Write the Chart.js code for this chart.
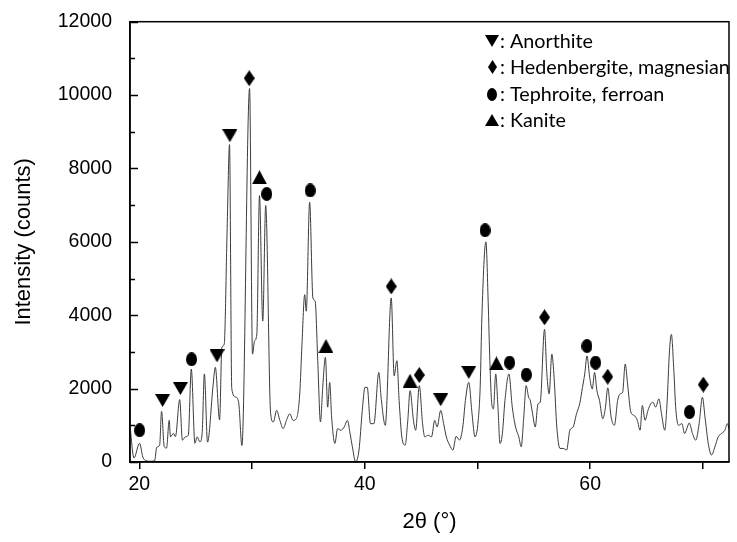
<!DOCTYPE html>
<html>
<head>
<meta charset="utf-8">
<script src="https://cdn.jsdelivr.net/npm/chart.js@4.4.0/dist/chart.umd.min.js"></script>
<style>
  html, body { margin: 0; padding: 0; background: #fff; }
  #wrap { position: relative; width: 737px; height: 542px; }
</style>
</head>
<body>
<div id="wrap"><canvas id="xrd" width="737" height="542"></canvas></div>
<script>

// XRD trace, 2theta (deg) and intensity (counts)
let theta = [
   19.18, 19.52, 20.02, 20.31, 20.66, 21.00, 21.36, 21.54, 21.80, 21.97,
   22.21, 22.41, 22.65, 22.76, 23.03, 23.20, 23.58, 23.82, 24.08, 24.34,
   24.61, 24.93, 25.13, 25.37, 25.57, 25.77, 26.05, 26.54, 26.74, 27.12,
   27.32, 27.53, 27.79, 28.00, 28.20, 28.55, 28.82, 29.10, 29.78, 30.04,
   30.22, 30.42, 30.66, 30.95, 31.21, 31.65, 31.89, 32.18, 32.47, 32.76,
   33.05, 33.35, 33.64, 33.93, 34.23, 34.43, 34.67, 34.81, 35.11, 35.40,
   35.60, 35.83, 36.07, 36.27, 36.51, 36.71, 36.89, 37.06, 37.35, 37.59,
   37.88, 38.18, 38.46, 38.70, 38.90, 39.19, 39.49, 39.78, 40.02, 40.22,
   40.51, 40.81, 41.25, 41.45, 41.82, 42.35, 42.61, 42.85, 43.05, 43.29,
   43.58, 43.82, 44.02, 44.32, 44.52, 44.84, 45.13, 45.33, 45.63, 45.92,
   46.21, 46.42, 46.74, 47.00, 47.24, 47.53, 47.82, 48.11, 48.40, 48.70,
   48.93, 49.23, 49.52, 49.78, 50.07, 50.25, 50.39, 50.75, 50.95, 51.10,
   51.27, 51.42, 51.62, 51.82, 52.00, 52.21, 52.44, 52.79, 53.09, 53.38,
   53.67, 53.88, 54.11, 54.32, 54.54, 54.69, 54.89, 55.13, 55.37, 55.57,
   55.95, 56.16, 56.36, 56.60, 56.80, 57.04, 57.32, 57.61, 57.91, 58.20,
   58.49, 58.79, 59.08, 59.32, 59.52, 59.72, 59.96, 60.19, 60.39, 60.60,
   60.83, 61.12, 61.36, 61.56, 61.86, 62.15, 62.44, 62.65, 62.88, 63.11,
   63.32, 63.61, 63.90, 64.19, 64.43, 64.63, 64.87, 65.13, 65.37, 65.57,
   65.81, 66.10, 66.33, 66.62, 66.82, 67.04, 67.21, 67.41, 67.61, 67.85,
   68.14, 68.38, 68.58, 68.79, 69.08, 69.37, 69.67, 69.96, 70.19, 70.48,
   70.77, 71.07, 71.36, 71.65, 71.95, 72.17, 72.32
];

let counts = [
   950, 110, 510, 135, 30, 20, 40, 400, 460, 1380,
   415, 380, 1135, 685, 780, 690, 1700, 595, 685, 730,
   2530, 510, 685, 550, 780, 2400, 540, 2080, 2580, 1150,
   3120, 3210, 6360, 8650, 2000, 1770, 1600, 450, 10180, 2940,
   3300, 3480, 7260, 3840, 6990, 1315, 1090, 1405, 1135, 910,
   1135, 1315, 1135, 1180, 1855, 3210, 4560, 4110, 7080, 4470,
   4380, 2760, 1090, 2035, 2850, 1495, 2170, 1225, 505, 910,
   865, 955, 1135, 775, 415, 10, 325, 1405, 2035, 2035,
   1045, 1045, 2440, 1765, 1000, 4470, 2350, 2760, 1675, 685,
   460, 1135, 1945, 1135, 865, 2080, 1045, 685, 730, 685,
   1135, 955, 1405, 1045, 685, 460, 325, 700, 600, 955,
   1675, 2170, 1315, 685, 1135, 2125, 3930, 6000, 4380, 2760,
   1585, 1450, 2400, 1495, 505, 775, 1675, 2400, 1495, 955,
   685, 415, 1225, 2080, 1765, 1675, 1315, 955, 1585, 1630,
   3615, 2400, 1855, 2940, 2305, 955, 370, 370, 325, 865,
   955, 1315, 1600, 2035, 2400, 2890, 2305, 1990, 2440, 1945,
   1675, 1180, 1495, 2020, 1225, 1000, 1675, 1855, 1900, 2670,
   2125, 1360, 1270, 1135, 865, 1540, 1135, 1405, 1585, 1630,
   1495, 1720, 1315, 865, 1585, 3030, 3480, 2580, 1405, 1000,
   1045, 775, 910, 1065, 775, 595, 1045, 1765, 1225, 505,
   190, 415, 685, 775, 865, 1045, 910
];

// phase markers (position of the symbol)
let anorthiteX = [22.06, 23.64, 26.89, 28.03, 46.74, 49.23];
let anorthiteY = [1675, 2000, 2890, 8890, 1695, 2440];

let hedenbergiteX = [29.75, 42.35, 44.84, 55.95, 61.56, 70.04];
let hedenbergiteY = [10460, 4785, 2370, 3945, 2325, 2110];

let tephroiteX = [20.02, 24.63, 31.30, 35.16, 50.68, 52.85, 54.34, 59.72, 60.48, 68.82];
let tephroiteY = [865, 2800, 7305, 7400, 6315, 2710, 2380, 3160, 2710, 1360];

let kaniteX = [30.66, 36.56, 44.02, 51.68];
let kaniteY = [7760, 3160, 2215, 2685];

let legendNames = ["Anorthite", "Hedenbergite, magnesian", "Tephroite, ferroan", "Kanite"];


function makeMarker(shape, w, h){

   let c = document.createElement("canvas");
   c.width = w;
   c.height = h;

   let g = c.getContext("2d");
   g.fillStyle = "#000";
   g.beginPath();

   if(shape === "down"){
      g.moveTo(0,0); g.lineTo(w,0); g.lineTo(w/2,h);
   }else if(shape === "up"){
      g.moveTo(w/2,0); g.lineTo(w,h); g.lineTo(0,h);
   }else if(shape === "diamond"){
      g.moveTo(w/2,0); g.lineTo(w,h/2); g.lineTo(w/2,h); g.lineTo(0,h/2);
   }else{
      g.ellipse(w/2,h/2,w/2,h/2,0,0,Math.PI*2);
   }

   g.closePath();
   g.fill();

   return c;

}

let markDown = makeMarker("down", 15, 13);
let markDiamond = makeMarker("diamond", 11, 16);
let markCircle = makeMarker("circle", 11, 14);
let markUp = makeMarker("up", 15, 14);

let legendMarks = [
   makeMarker("down", 14, 12),
   makeMarker("diamond", 9, 14),
   makeMarker("circle", 10, 13),
   makeMarker("up", 14, 12)
];

function pairs(xs, ys){
   return xs.map((x,i)=>({ x: x, y: ys[i] }));
}

function markerSet(label, xs, ys, img){
   return {
      type: "scatter",
      label: label,
      data: pairs(xs, ys),
      pointStyle: img,
      pointRadius: 7,
      pointHoverRadius: 7,
      order: 1
   };
}


/* frame, inward y ticks, legend text */

const framePlugin = {

   id: "frame",

   afterDraw(chart){

      let ctx = chart.ctx;
      let a = chart.chartArea;
      let y = chart.scales.y;

      ctx.save();

      ctx.strokeStyle = "#000";
      ctx.lineWidth = 1.5;
      ctx.strokeRect(a.left, a.top, a.right - a.left, a.bottom - a.top);

      y.ticks.forEach(t => {
         let py = Math.round(y.getPixelForValue(t.value)) + 0.5;
         let len = (t.value % 2000 === 0) ? 8 : 5;
         ctx.beginPath();
         ctx.moveTo(a.left, py);
         ctx.lineTo(a.left + len, py);
         ctx.stroke();
      });

      // legend
      let rows = [41, 67, 94, 120];
      let size = 17;
      ctx.font = size + "px Lato";
      let w = ctx.measureText(": " + legendNames[1]).width;
      size = size * 230 / w;
      ctx.font = size + "px Lato";
      ctx.fillStyle = "#000";
      ctx.textBaseline = "middle";
      ctx.textAlign = "left";

      legendNames.forEach((name, i) => {
         let m = legendMarks[i];
         ctx.drawImage(m, Math.round(492 - m.width/2), Math.round(rows[i] - m.height/2));
         ctx.fillText(": " + name, 500, rows[i] + 1);
      });

      ctx.restore();

   }

};


Chart.defaults.font.family = "'Liberation Sans', Arial, sans-serif";
Chart.defaults.color = "#000";

let ctx = document.getElementById("xrd").getContext("2d");

new Chart(ctx, {

   data: {

      datasets: [

         markerSet("Anorthite", anorthiteX, anorthiteY, markDown),
         markerSet("Hedenbergite, magnesian", hedenbergiteX, hedenbergiteY, markDiamond),
         markerSet("Tephroite, ferroan", tephroiteX, tephroiteY, markCircle),
         markerSet("Kanite", kaniteX, kaniteY, markUp),

         {
            type: "line",
            label: "XRD",
            data: pairs(theta, counts),
            borderColor: "#3c3c3c",
            borderWidth: 1,
            pointRadius: 0,
            cubicInterpolationMode: "monotone",
            fill: false,
            order: 2
         }

      ]

   },

   options: {

      responsive: false,
      animation: false,
      devicePixelRatio: 1,

      layout: {
         padding: { top: 18, right: 1, left: 0, bottom: 0 }
      },

      plugins: {
         legend: { display: false },
         tooltip: { enabled: false }
      },

      scales: {

         x: {
            type: "linear",
            min: 19.17,
            max: 72.32,
            afterFit: s => { s.height = 80; },
            grid: {
               display: true,
               drawOnChartArea: false,
               drawTicks: true,
               tickLength: 7,
               color: "#000",
               lineWidth: 1.5
            },
            border: { display: true, color: "#000", width: 1.5 },
            ticks: {
               stepSize: 10,
               includeBounds: false,
               autoSkip: false,
               maxRotation: 0,
               padding: 4,
               font: { size: 19.5 },
               callback: v => (v % 20 === 0 ? v : "")
            },
            title: {
               display: true,
               text: "2θ (°)",
               font: { size: 22 },
               padding: { top: 4, bottom: 7 }
            }
         },

         y: {
            min: 0,
            max: 12000,
            afterFit: s => { s.width = 130; },
            grid: { display: false },
            border: { display: true, color: "#000", width: 1.5 },
            ticks: {
               stepSize: 1000,
               autoSkip: false,
               padding: 10,
               font: { size: 19.5 },
               callback: v => (v % 2000 === 0 ? v : "")
            },
            title: {
               display: true,
               text: "Intensity (counts)",
               font: { size: 22 },
               padding: { top: 11, bottom: 4 }
            }
         }

      }

   },

   plugins: [framePlugin]

});

</script>
</body>
</html>
